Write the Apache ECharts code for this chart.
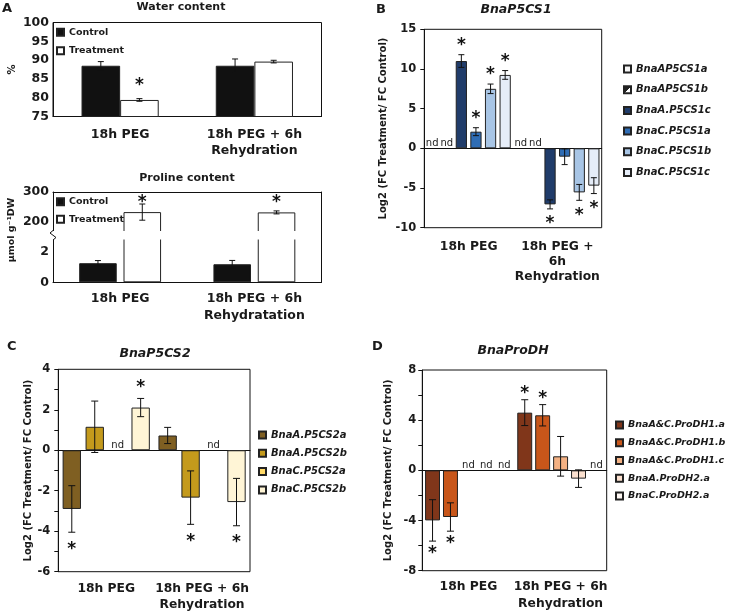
<!DOCTYPE html>
<html>
<head>
<meta charset="utf-8">
<script src="https://cdn.jsdelivr.net/npm/echarts@6.0.0/dist/echarts.min.js"></script>
<style>
  html, body { margin: 0; padding: 0; background: #fff; }
  #main { width: 729px; height: 614px; }
</style>
</head>
<body>
<div id="main"></div>
<script>
var FONT = 'DejaVu Sans';
var INK = '#1a1a1a';

// ---- panel A : water / proline content ----
var groupsWater = ['18h PEG', '18h PEG + 6h\nRehydration'];
var groupsProline = ['18h PEG', '18h PEG + 6h\nRehydratation'];
var waterControl = [88.5, 88.5];
var waterControlErr = [1.1, 1.8];
var waterTreat = [79.4, 89.6];
var waterTreatErr = [0.35, 0.35];
var waterTreatStar = [1, 0];
var prolControl = [1.25, 1.18];
var prolControlErr = [0.17, 0.25];
var prolTreat = [233, 232];
var prolTreatErr = [27, 5];
var prolTreatStar = [1, 1];

// ---- panels B, C, D : log2 fold changes (null = nd) ----
var groupsB = ['18h PEG', '18h PEG +\n6h\nRehydration'];
var groupsCD = ['18h PEG', '18h PEG + 6h\nRehydration'];

var genesB = ['BnaAP5CS1a', 'BnaAP5CS1b', 'BnaA.P5CS1c', 'BnaC.P5CS1a', 'BnaC.P5CS1b', 'BnaC.P5CS1c'];
var valsB = [[null, null], [null, null], [11.0, -7.06], [2.1, -1.05], [7.5, -5.55], [9.25, -4.7]];
var errB = [[0, 0], [0, 0], [0.8, 0.57], [0.5, 1.0], [0.6, 1.0], [0.55, 1.0]];
var starB = [[0, 0], [0, 0], [1, 1], [1, 0], [1, 1], [1, 1]];

var genesC = ['BnaA.P5CS2a', 'BnaA.P5CS2b', 'BnaC.P5CS2a', 'BnaC.P5CS2b'];
var valsC = [[-2.9, 0.73], [1.16, -2.34], [null, null], [2.11, -2.56]];
var errC = [[1.15, 0.4], [1.27, 1.32], [0, 0], [0.45, 1.17]];
var starC = [[1, 0], [0, 1], [0, 0], [1, 1]];

var genesD = ['BnaA&C.ProDH1.a', 'BnaA&C.ProDH1.b', 'BnaA&C.ProDH1.c', 'BnaA.ProDH2.a', 'BnaC.ProDH2.a'];
var valsD = [[-3.99, 4.6], [-3.72, 4.39], [null, 1.12], [null, -0.66], [null, null]];
var errD = [[1.65, 1.03], [1.13, 0.85], [0, 1.58], [0, 0.7], [0, 0]];
var starD = [[1, 1], [1, 1], [0, 0], [0, 0], [0, 0]];

var split2 = {type: 'linear', x: 0, y: 0, x2: 1, y2: 1, colorStops: [
  {offset: 0, color: '#222'}, {offset: 0.5, color: '#222'},
  {offset: 0.5, color: '#fff'}, {offset: 1, color: '#fff'}]};
var colorsB = ['#f7f7f7', split2, '#203c6a', '#2f6db5', '#a8c5e5', '#e6edf8'];
var colorsC = ['#7f5f22', '#c49a1c', '#ffd966', '#fff5d6'];
var colorsD = ['#80361a', '#c8561a', '#f4b183', '#fbe0cf', '#fff8f4'];

// star: gap in px from the error bar end (or from the bar top when fromBar)
var layoutA = {n: 2, gap: 0, catGap: 0.425, cap: 3, star: 16};
var layoutP = {n: 2, gap: 0.18, catGap: 0.39, cap: 3, star: 13, fromBar: true};
var layoutB = {n: 6, gap: 0.3, catGap: 0.05, cap: 3, star: 12};
var layoutC = {n: 4, gap: 0.25, catGap: 0.09, cap: 3.5, star: 14};
var layoutD = {n: 5, gap: 0.2, catGap: 0.06, cap: 3.5, star: 9.5};

// rows: [category, slot, value, err, star, nd]
function rowsFrom(vals, errs, stars) {
  var rows = [];
  vals.forEach(function (vs, s) {
    vs.forEach(function (v, c) {
      if (v === null) rows.push([c, s, 0, 0, 0, 1]);
      else rows.push([c, s, v, errs[s][c], stars[s][c], 0]);
    });
  });
  return rows;
}

function marks(xi, yi, rows, cfg) {
  return {
    type: 'custom', xAxisIndex: xi, yAxisIndex: yi, z: 10, silent: true, clip: false,
    encode: {x: 0, y: 2},
    data: rows,
    renderItem: function (params, api) {
      var cat = api.value(0), slot = api.value(1), v = api.value(2), e = api.value(3);
      var band = api.size([1, 0])[0];
      var w = band * (1 - cfg.catGap) / (cfg.n + (cfg.n - 1) * cfg.gap);
      var total = cfg.n * w + (cfg.n - 1) * cfg.gap * w;
      var cx = api.coord([cat, v])[0] - total / 2 + slot * w * (1 + cfg.gap) + w / 2;
      var kids = [];
      if (api.value(5)) {
        kids.push({type: 'text', style: {x: cx, y: api.coord([cat, 0])[1] + 0.5, text: 'nd',
          align: 'center', verticalAlign: 'bottom', fontFamily: FONT, fontSize: 10, fill: INK}});
        return {type: 'group', children: kids};
      }
      var yHi = api.coord([cat, v + e])[1], yLo = api.coord([cat, v - e])[1];
      var st = {stroke: '#111', lineWidth: 1};
      kids.push({type: 'line', shape: {x1: cx, y1: yHi, x2: cx, y2: yLo}, style: st});
      kids.push({type: 'line', shape: {x1: cx - cfg.cap, y1: yHi, x2: cx + cfg.cap, y2: yHi}, style: st});
      kids.push({type: 'line', shape: {x1: cx - cfg.cap, y1: yLo, x2: cx + cfg.cap, y2: yLo}, style: st});
      if (api.value(4)) {
        var yv = api.coord([cat, v])[1];
        var sy = v >= 0 ? (cfg.fromBar ? yv : yHi) - cfg.star : (cfg.fromBar ? yv : yLo) + cfg.star;
        kids.push({type: 'text', style: {x: cx, y: sy + 3, text: '*', align: 'center', verticalAlign: 'middle',
          fontFamily: FONT, fontWeight: 'bold', fontSize: 17, fill: '#111'}});
      }
      return {type: 'group', children: kids};
    }
  };
}

function bars(names, vals, colors, xi, yi, cfg) {
  return names.map(function (n, i) {
    return {
      type: 'bar', name: n, xAxisIndex: xi, yAxisIndex: yi, data: vals[i],
      barGap: (cfg.gap * 100) + '%', barCategoryGap: (cfg.catGap * 100) + '%',
      itemStyle: {color: colors[i], borderColor: '#222', borderWidth: 1}
    };
  });
}

var tick = {fontFamily: FONT, fontWeight: 'bold', color: INK};
function catAxis(grid, data, extra) {
  return Object.assign({
    type: 'category', gridIndex: grid, data: data,
    axisLine: {lineStyle: {color: '#111'}},
    axisTick: {length: 4, lineStyle: {color: '#111'}},
    axisLabel: {show: false},
    splitLine: {show: false}
  }, extra);
}
function valAxis(grid, extra) {
  return Object.assign({
    type: 'value', gridIndex: grid,
    axisLine: {show: true, lineStyle: {color: '#111'}},
    axisTick: {show: true, length: 4, lineStyle: {color: '#111'}},
    splitLine: {show: false}
  }, extra);
}
function labelAxis(grid, data, size, margin, lh) {
  return catAxis(grid, data, {
    position: 'bottom', axisLine: {show: false, onZero: false}, axisTick: {show: false},
    axisLabel: Object.assign({show: true, fontSize: size, margin: margin, lineHeight: lh, interval: 0}, tick)
  });
}
function yName(text, gap) {
  return {name: text, nameLocation: 'middle', nameGap: gap,
    nameTextStyle: {fontFamily: FONT, fontWeight: 'bold', fontSize: 10, color: INK}};
}
function legendAt(names, left, top, gap, size, italic) {
  return {
    data: names, orient: 'vertical', left: left, top: top, padding: 0,
    itemWidth: 7, itemHeight: 7, itemGap: gap, icon: 'rect', selectedMode: false,
    textStyle: {fontFamily: FONT, fontWeight: 'bold', fontStyle: italic ? 'italic' : 'normal',
      fontSize: size, lineHeight: 12, color: INK}
  };
}
function heading(text, left, top, size, italic, center) {
  return {
    text: text, left: left, top: top, padding: 0, textAlign: center ? 'center' : 'left',
    textStyle: {fontFamily: FONT, fontWeight: 'bold', fontStyle: italic ? 'italic' : 'normal', fontSize: size, color: INK}
  };
}
var box = {show: true, borderColor: '#111', borderWidth: 1, backgroundColor: 'transparent'};

var option = {
  animation: false,
  backgroundColor: '#fff',
  title: [
    heading('A', 2, 2, 13, false, false),
    heading('Water content', 181, 2, 11, false, true),
    heading('Proline content', 187, 172.5, 11, false, true),
    heading('B', 376, 3, 13, false, false),
    heading('BnaP5CS1', 516, 3, 12.5, true, true),
    heading('C', 7, 340, 13, false, false),
    heading('BnaP5CS2', 155, 347, 12.5, true, true),
    heading('D', 372, 340, 13, false, false),
    heading('BnaProDH', 513, 344, 12.5, true, true)
  ],
  legend: [
    legendAt(['Control', 'Treatment'], 56, 26.3, 6.4, 9.5, false),
    legendAt(['Control', 'Treatment'], 56, 195.7, 5.6, 9.5, false),
    legendAt(genesB, 623, 63, 8.7, 10, true),
    legendAt(genesC, 258, 429, 6.3, 10, true),
    legendAt(genesD, 615, 419, 5.75, 9.5, true)
  ],
  grid: [
    Object.assign({left: 53, top: 22.5, width: 268.5, height: 94}, box),
    {left: 53, top: 192, width: 268.5, height: 45},
    {left: 53, top: 233.5, width: 268.5, height: 48.8},
    Object.assign({left: 424.3, top: 29.3, width: 177.4, height: 198.4}, box),
    Object.assign({left: 58.3, top: 369.3, width: 191.7, height: 202.4}, box),
    Object.assign({left: 422.3, top: 370, width: 184.4, height: 200.7}, box)
  ],
  xAxis: [
    catAxis(0, groupsWater, {axisTick: {length: 3, lineStyle: {color: '#111'}},
      axisLabel: Object.assign({show: true, fontSize: 12.5, margin: 10, lineHeight: 16, interval: 0}, tick)}),
    catAxis(1, groupsProline, {position: 'top', axisTick: {show: false}}),
    catAxis(2, groupsProline, {axisTick: {length: 3, lineStyle: {color: '#111'}},
      axisLabel: Object.assign({show: true, fontSize: 12.5, margin: 7.5, lineHeight: 17, interval: 0}, tick)}),
    catAxis(3, groupsB, {axisLine: {onZero: true, lineStyle: {color: '#111'}}}),
    labelAxis(3, groupsB, 12.3, 12, 15),
    catAxis(4, groupsCD, {axisLine: {onZero: true, lineStyle: {color: '#111'}}}),
    labelAxis(4, groupsCD, 12.3, 8.3, 16.7),
    catAxis(5, groupsCD, {axisLine: {onZero: true, lineStyle: {color: '#111'}}}),
    labelAxis(5, groupsCD, 12.3, 8, 17)
  ],
  yAxis: [
    valAxis(0, Object.assign({min: 75, max: 100, interval: 5,
      axisTick: {length: 3, lineStyle: {color: '#111'}},
      axisLabel: Object.assign({fontSize: 12.5, margin: 4}, tick)}, yName('%', 36))),
    valAxis(1, {min: 150, max: 300,
      axisTick: {length: 3, customValues: [200, 300], lineStyle: {color: '#111'}},
      axisLabel: Object.assign({fontSize: 12.5, margin: 4, customValues: [200, 300]}, tick)}),
    valAxis(1, {min: 150, max: 300, position: 'right', axisTick: {show: false}, axisLabel: {show: false}}),
    valAxis(2, {min: 0, max: 3.19,
      axisTick: {length: 3, customValues: [0, 1, 2], lineStyle: {color: '#111'}},
      axisLabel: Object.assign({fontSize: 12.5, margin: 4, customValues: [0, 2]}, tick)}),
    valAxis(2, {min: 0, max: 3.19, position: 'right', axisTick: {show: false}, axisLabel: {show: false}}),
    valAxis(3, Object.assign({min: -10, max: 15, interval: 5,
      axisLabel: Object.assign({fontSize: 11.5, margin: 8}, tick)}, yName('Log2 (FC Treatment/ FC Control)', 36))),
    valAxis(4, Object.assign({min: -6, max: 4, interval: 1,
      axisLabel: Object.assign({fontSize: 11.5, margin: 8, formatter: function (v) { return v % 2 === 0 ? v : ''; }}, tick)},
      yName('Log2 (FC Treatment/ FC Control)', 25))),
    valAxis(5, Object.assign({min: -8, max: 8, interval: 2,
      axisLabel: Object.assign({fontSize: 11.5, margin: 6, formatter: function (v) { return v % 4 === 0 ? v : ''; }}, tick)},
      yName('Log2 (FC Treatment/ FC Control)', 29)))
  ],
  graphic: [
    // axis break: white band over the overlap of the two proline grids, then the break mark
    {type: 'rect', z: 100, shape: {x: 49, y: 231, width: 272, height: 8.5},
      style: {fill: '#fff'}},
    {type: 'polyline', z: 101, shape: {points: [[53, 230.5], [50, 233], [56, 237.5], [53, 240]]},
      style: {stroke: '#111', fill: null, lineWidth: 1}},
    {type: 'text', x: 12, y: 230, rotation: Math.PI / 2,
      style: {text: 'μmol g⁻¹DW', align: 'center', verticalAlign: 'middle',
        font: 'bold 9.5px "DejaVu Sans"', fill: INK}}
  ],
  series: [].concat(
    bars(['Control', 'Treatment'], [waterControl, waterTreat], ['#111', '#fff'], 0, 0, layoutA),
    marks(0, 0, rowsFrom([waterControl, waterTreat], [waterControlErr, waterTreatErr], [[0, 0], waterTreatStar]), layoutA),
    bars(['Control', 'Treatment'], [prolControl, prolTreat], ['#111', '#fff'], 1, 1, layoutP),
    marks(1, 1, rowsFrom([[null, null], prolTreat], [[0, 0], prolTreatErr], [[0, 0], prolTreatStar])
      .filter(function (r) { return !r[5]; }), layoutP),
    bars(['Control', 'Treatment'], [prolControl, prolTreat], ['#111', '#fff'], 2, 3, layoutP),
    marks(2, 3, rowsFrom([prolControl, [null, null]], [prolControlErr, [0, 0]], [[0, 0], [0, 0]])
      .filter(function (r) { return !r[5]; }), layoutP),
    bars(genesB, valsB, colorsB, 3, 5, layoutB),
    marks(3, 5, rowsFrom(valsB, errB, starB), layoutB),
    bars(genesC, valsC, colorsC, 5, 6, layoutC),
    marks(5, 6, rowsFrom(valsC, errC, starC), layoutC),
    bars(genesD, valsD, colorsD, 7, 7, layoutD),
    marks(7, 7, rowsFrom(valsD, errD, starD), layoutD)
  )
};

echarts.init(document.getElementById('main'), null, {renderer: 'canvas'}).setOption(option);
</script>
</body>
</html>
